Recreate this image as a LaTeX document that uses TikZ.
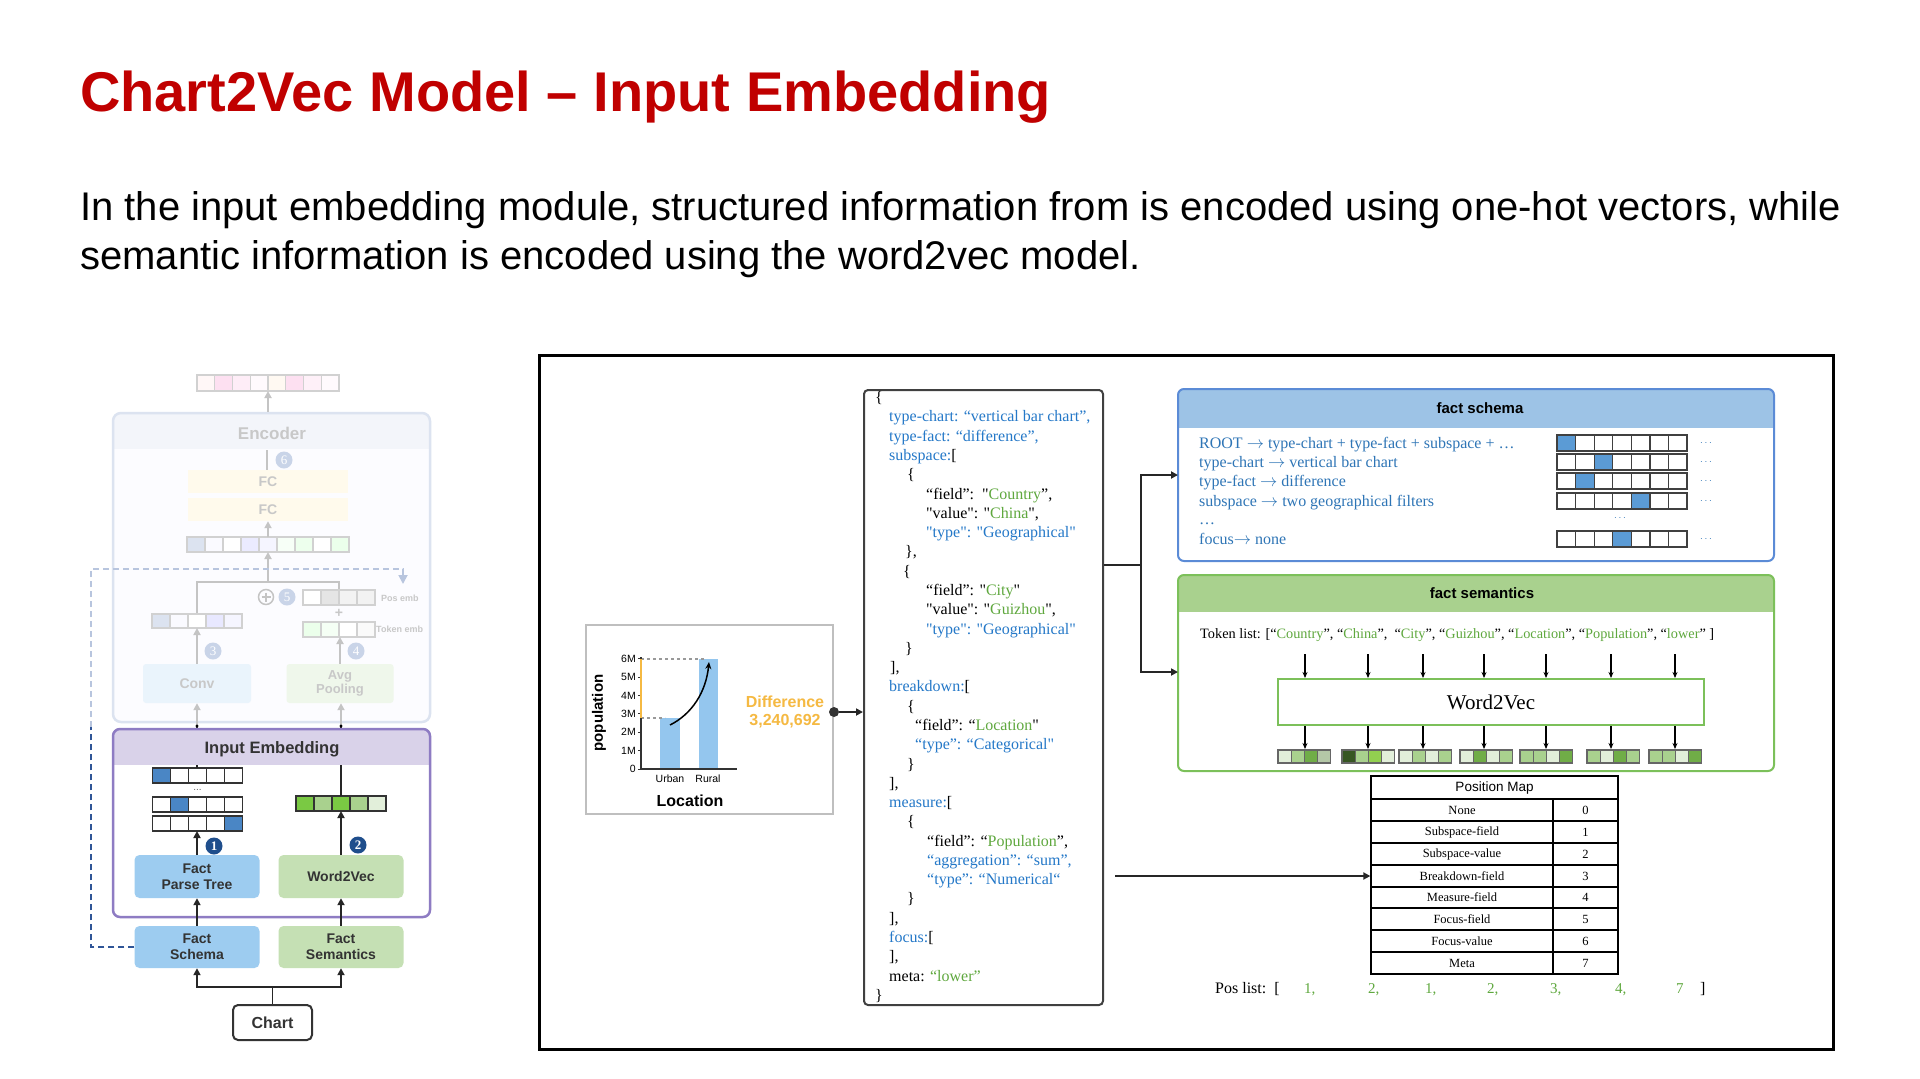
\documentclass[tikz,border=0pt]{standalone}
\usepackage{fontspec}
\setmainfont{Liberation Sans}
\newfontfamily\tms{Liberation Serif}
\usetikzlibrary{arrows.meta,calc}
\definecolor{titlered}{HTML}{C00000}
\definecolor{jblue}{HTML}{2478C8}
\definecolor{jgreen}{HTML}{5FA83E}
\definecolor{schB}{HTML}{5B8BD6}
\definecolor{schH}{HTML}{9DC3E6}
\definecolor{semB}{HTML}{7CC05A}
\definecolor{semH}{HTML}{A9D18E}
\definecolor{lbox}{HTML}{9DCCF0}
\definecolor{gbox}{HTML}{C5E0B4}
\definecolor{purB}{HTML}{8E7CC3}
\definecolor{purH}{HTML}{D9D2E9}
\definecolor{ohb}{HTML}{4A86C5}
\definecolor{numb}{HTML}{1F4E8C}
\definecolor{fadeT}{HTML}{C8C8C8}
\definecolor{fadeL}{HTML}{C4C4C4}
\definecolor{encB}{HTML}{DCE3F0}
\definecolor{encH}{HTML}{F3F5FA}
\definecolor{fcF}{HTML}{FFFAEC}
\definecolor{convF}{HTML}{EAF4FC}
\definecolor{avgF}{HTML}{EFF7EB}
\definecolor{fadeC}{HTML}{C9D4E8}
\definecolor{dashB}{HTML}{2F5597}
\definecolor{dashF}{HTML}{B8C5DE}
\definecolor{barB}{HTML}{94C6EE}
\definecolor{orng}{HTML}{F5B942}
\definecolor{sblue}{HTML}{2E75B6}
\definecolor{cellB}{HTML}{5B9BD5}
\definecolor{ga}{HTML}{E2EFDA}
\definecolor{gb}{HTML}{A9D18E}
\definecolor{gc}{HTML}{70AD47}
\definecolor{gd}{HTML}{B4C7A7}
\definecolor{ge}{HTML}{375623}
\definecolor{gf}{HTML}{92D050}
\definecolor{gg}{HTML}{7AC943}
\newcommand\cellrowx[6]{\foreach \cc [count=\ii from 0] in {#6}{\filldraw[fill=\cc,draw=#5,line width=1.3pt] ({#1+\ii*#3},#2) rectangle ++(#3,#4);}}
\newcommand\jb[1]{\textcolor{jblue}{#1}}
\newcommand\jg[1]{\textcolor{jgreen}{#1}}
\newcommand\jl[3]{\node[jt] (jl#1) at (#2,{402.7+19.28*#1}) {#3};}
\begin{document}
\begin{tikzpicture}[x=1pt,y=-1pt,
  arr/.style={-{Triangle[length=7pt,width=7pt]},line width=1.8pt,draw=black!85},
  garr/.style={-{Triangle[length=7pt,width=7pt]},line width=1.8pt,draw=fadeL},
  sarr/.style={-{Stealth[length=6pt,width=5pt]},line width=1.2pt,draw=black},
  jt/.style={anchor=base west,inner sep=0pt,font=\tms\fontsize{16}{16}\selectfont},
  lbl/.style={font=\bfseries\fontsize{14}{16}\selectfont,text=black!80,align=center},
  flbl/.style={font=\bfseries\fontsize{14}{16}\selectfont,text=fadeT,align=center},
  numc/.style={circle,fill=numb,text=white,inner sep=0pt,minimum size=17pt,font=\tms\bfseries\fontsize{13}{13}\selectfont},
  fnum/.style={circle,fill=fadeC,text=white,inner sep=0pt,minimum size=17pt,font=\tms\fontsize{13}{13}\selectfont},
  st/.style={anchor=base west,inner sep=0pt,text=sblue,font=\tms\fontsize{16}{16}\selectfont},
  pm/.style={inner sep=0pt,font=\tms\fontsize{12.5}{13}\selectfont},
  ck/.style={inner sep=0pt,font=\fontsize{10.5}{11}\selectfont},
]
\useasboundingbox (0,0) rectangle (1920,1079);
\fill[white] (0,0) rectangle (1920,1079);

% ---------- title & text
\node[anchor=base west,inner sep=0pt,text=titlered,font=\bfseries\fontsize{56}{60}\selectfont] (title) at (80,111) {Chart2Vec Model – Input Embedding};
\node[anchor=base west,inner sep=0pt,font=\fontsize{40}{42}\selectfont] (para1) at (80,220) {In the input embedding module, structured information from is encoded using one-hot vectors, while};
\node[anchor=base west,inner sep=0pt,font=\fontsize{40}{42}\selectfont] (para2) at (80,269) {semantic information is encoded using the word2vec model.};

% ---------- left diagram (faded encoder)
\cellrowx{197}{375}{17.75}{16}{black!18}{red!3,magenta!12,magenta!7,magenta!2,orange!5,magenta!12,magenta!6,magenta!2}
\coordinate (outv) at (268,391);
\fill[blue!1,rounded corners=8pt] (113,413) rectangle (430,722);
\begin{scope}\clip[rounded corners=8pt] (113,413) rectangle (430,722); \fill[encH] (113,413) rectangle (430,449);\end{scope}
\node[draw=encB,line width=2.5pt,rounded corners=8pt,minimum width=317pt,minimum height=309pt,inner sep=0pt] (encbox) at (271.5,567.5) {};
\node[font=\bfseries\fontsize{17}{17}\selectfont,text=fadeT] (enc) at (272,433) {Encoder};
\draw[garr] (encbox.north -| outv) -- (outv);
\node[fill=fcF,minimum width=160pt,minimum height=23pt,inner sep=0pt,flbl] (fc1) at (268,481.5) {FC};
\node[fill=fcF,minimum width=160pt,minimum height=23pt,inner sep=0pt,flbl] (fc2) at (268,509.5) {FC};
\coordinate (enc6) at (267,450);
\draw[line width=1.8pt,fadeL] (fc1.north -| enc6) -- (enc6);
\node[fnum] (c6) at (284,460) {6};
\cellrowx{187}{537}{18}{15}{black!18}{encB,blue!2,white,blue!8,blue!4,green!3,green!7,white,green!8}
\coordinate (midv) at (268,537);
\draw[garr] (midv) -- (fc2.south -| midv);
\coordinate (mj) at (268,582);
\draw[garr] (mj) -- (268,552);
\coordinate (lvt) at (197,614);
\coordinate (pet) at (339,590);
\draw[line width=1.8pt,fadeL] (lvt) |- (pet |- mj) -- (pet);
\node[circle,draw=fadeL,line width=1.5pt,minimum size=15pt,inner sep=0pt] (oplus) at (266,597) {};
\draw[line width=1.5pt,fadeL] ($(oplus.center)+(-4.5,0)$) -- ($(oplus.center)+(4.5,0)$) ($(oplus.center)+(0,-4.5)$) -- ($(oplus.center)+(0,4.5)$);
\node[fnum] (c5) at (287,597) {5};
\cellrowx{303}{590}{18}{15}{black!18}{white,black!10,black!5,black!5}
\node[anchor=west,inner sep=0pt,font=\bfseries\fontsize{9}{9}\selectfont,text=fadeT] (posl) at (381,598) {Pos emb};
\node[inner sep=0pt,font=\bfseries\fontsize{14}{14}\selectfont,text=fadeT] (plus) at (339,613) {+};
\cellrowx{303}{622}{18}{15}{black!18}{green!8,green!4,white,black!2}
\node[anchor=west,inner sep=0pt,font=\bfseries\fontsize{9}{9}\selectfont,text=fadeT] (tokl) at (376,629) {Token emb};
\cellrowx{152}{614}{18}{14}{black!18}{encB,blue!2,white,blue!9,blue!4}
\node[fill=convF,rounded corners=3pt,minimum width=108pt,minimum height=39pt,inner sep=0pt,flbl] (conv) at (197,683.5) {Conv};
\node[fill=avgF,rounded corners=3pt,minimum width=107pt,minimum height=39pt,inner sep=0pt,flbl,font=\bfseries\fontsize{13}{14}\selectfont] (avg) at (340,683.5) {Avg\\Pooling};
\draw[garr] (conv.north) -- (197,628);
\node[fnum] (c3) at (213,651) {3};
\draw[garr] (avg.north) -- (340,637);
\node[fnum] (c4) at (356,651) {4};
\coordinate (lup) at (197,726);
\coordinate (rup) at (341,726);
\draw[garr] (lup) -- (conv.south);
\draw[garr] (rup) -- (rup |- avg.south);
% dashed skip line (faded part)
\coordinate (dk) at (91,727);
\coordinate (dt) at (403,584);
\draw[dashF,line width=1.8pt,dash pattern=on 6pt off 4pt,-{Triangle[length=9pt,width=9pt]}] (dk) |- (dt |- 0,569) -- (dt);

% ---------- input embedding
\node[fill=white,rounded corners=7pt,minimum width=317pt,minimum height=188pt,inner sep=0pt] (iefill) at (271.5,823) {};
\cellrowx{152.5}{768}{18}{15}{black!80}{ohb,white,white,white,white}
\node[inner sep=0pt,font=\fontsize{10}{10}\selectfont,text=black!60] (ohd) at (197.5,790) {...};
\cellrowx{152.5}{797}{18}{15}{black!80}{white,ohb,white,white,white}
\cellrowx{152.5}{816}{18}{15}{black!80}{white,white,white,white,ohb}
\cellrowx{296}{796}{18}{15}{black!80}{gg,gb,gg,gb,ga}
\coordinate (oh1) at (197,768);
\coordinate (oh3) at (197,831);
\coordinate (gvt) at (341,796);
\coordinate (gvb) at (341,811);
\draw[line width=1.8pt,black!85] (oh1) -- (lup);
\draw[line width=1.8pt,black!85] (gvt) -- (rup);
\fill[black] (lup) circle (1.6pt) (rup) circle (1.6pt);
\begin{scope}\clip[rounded corners=7pt] (113,729) rectangle (430,917); \fill[purH] (113,729) rectangle (430,765);\end{scope}
\node[draw=purB,line width=2.5pt,rounded corners=7pt,minimum width=317pt,minimum height=188pt,inner sep=0pt] (ie) at (271.5,823) {};
\node[font=\bfseries\fontsize{16.5}{17}\selectfont,text=black!80] (iel) at (272,749) {Input Embedding};
\node[fill=lbox,rounded corners=5pt,minimum width=125pt,minimum height=43pt,inner sep=0pt,lbl] (fpt) at (197,876.5) {Fact\\Parse Tree};
\node[fill=gbox,rounded corners=5pt,minimum width=125pt,minimum height=43pt,inner sep=0pt,lbl] (w2v) at (341,876.5) {Word2Vec};
\node[fill=lbox,rounded corners=5pt,minimum width=125pt,minimum height=42pt,inner sep=0pt,lbl] (fs) at (197,947) {Fact\\Schema};
\node[fill=gbox,rounded corners=5pt,minimum width=125pt,minimum height=42pt,inner sep=0pt,lbl] (fsem) at (341,947) {Fact\\Semantics};
\node[draw=black!80,line width=2pt,fill=white,rounded corners=5pt,minimum width=79pt,minimum height=35pt,inner sep=0pt,font=\bfseries\fontsize{16}{16}\selectfont,text=black!80] (chart) at (272.5,1022.5) {Chart};
\draw[arr] (fpt.north) -- (oh3);
\draw[arr] (w2v.north) -- (gvb);
\node[numc] (n1) at (214,846) {1};
\node[numc] (n2) at (358,845) {2};
\draw[arr] (fs.north) -- (fpt.south);
\draw[arr] (fsem.north) -- (w2v.south);
\coordinate (cj) at (272.5,987);
\draw[line width=1.8pt,black!85] (chart.north) -- (cj);
\draw[arr] (cj) -| (fs.south);
\draw[arr] (cj) -| (fsem.south);
\draw[dashB,line width=1.8pt,dash pattern=on 6pt off 4pt] (fs.west) -| (dk);

% ---------- big frame
\draw[line width=3pt] (539,355) rectangle (1833,1049);

% ---------- chart card
\node[draw=black!25,line width=2pt,fill=white,minimum width=247pt,minimum height=189pt,inner sep=0pt] (card) at (709.5,719.5) {};
\fill[barB] (660,718) rectangle (680,769);
\fill[barB] (699,659) rectangle (718,769);
\draw[dashed,black!40,line width=1.2pt] (641,659) -- (706,659) (641,718) -- (665,718);
\draw[line width=1.5pt,black!80] (641,657) -- (641,769) -- (737,769);
\foreach \i/\t in {0/0,1/1M,2/2M,3/3M,4/4M,5/5M,6/6M}{
  \node[ck,anchor=east] (tk\i) at (636,{769-18.4*\i}) {\t};
  \draw[line width=1pt,black!80] (638,{769-18.4*\i}) -- (641,{769-18.4*\i});}
\draw[orng,line width=2.5pt] (641,659) -- (641,718);
\draw[-{Stealth[length=7pt,width=6pt]},line width=1.5pt] (670,725) .. controls (692,714) and (706,692) .. (709,662);
\node[rotate=90,inner sep=0pt,font=\bfseries\fontsize{15}{15}\selectfont] (ylab) at (599,713) {population};
\node[ck] (xu) at (670,779) {Urban};
\node[ck] (xr) at (708,779) {Rural};
\node[inner sep=0pt,font=\bfseries\fontsize{16}{16}\selectfont] (xlab) at (690,801) {Location};
\node[inner sep=0pt,text=orng,font=\bfseries\fontsize{16}{16}\selectfont] (diff) at (785,702) {Difference};
\node[inner sep=0pt,text=orng,font=\bfseries\fontsize{16}{16}\selectfont] (diffv) at (785,721) {3,240,692};
\node[circle,fill=black!80,minimum size=10pt,inner sep=0pt] (dot) at (834,712) {};

% ---------- json box
\node[draw=black!75,line width=2pt,rounded corners=4pt,fill=white,minimum width=239pt,minimum height=615pt,inner sep=0pt] (json) at (983.5,697.5) {};
\draw[arr,line width=1.8pt] (dot) -- (json.west |- dot);
\jl{0}{875}{\{}
\jl{1}{889}{\jb{type-chart: “vertical bar chart”,}}
\jl{2}{889}{\jb{type-fact: “difference”,}}
\jl{3}{889}{\jb{subspace:}[}
\jl{4}{907}{\{}
\jl{5}{926}{“field”:\ \ "\jg{Country}”,}
\jl{6}{926}{"value": "\jg{China}",}
\jl{7}{926}{\jb{"type": "Geographical"}}
\jl{8}{905}{\},}
\jl{9}{903}{\{}
\jl{10}{926}{“field”: "\jg{City}"}
\jl{11}{926}{"value": "\jg{Guizhou}",}
\jl{12}{926}{\jb{"type": "Geographical"}}
\jl{13}{905}{\}}
\jl{14}{890}{],}
\jl{15}{889}{\jb{breakdown:}[}
\jl{16}{907}{\{}
\jl{17}{915}{“field”: “\jg{Location}"}
\jl{18}{915}{\jb{“type”: “Categorical"}}
\jl{19}{907}{\}}
\jl{20}{889}{],}
\jl{21}{889}{\jb{measure:}[}
\jl{22}{907}{\{}
\jl{23}{927}{“field”: “\jg{Population}”,}
\jl{24}{927}{\jb{“aggregation”: “sum”,}}
\jl{25}{927}{\jb{“type”: “Numerical“}}
\jl{26}{907}{\}}
\jl{27}{889}{],}
\jl{28}{889}{\jb{focus:}[}
\jl{29}{889}{],}
\jl{30}{889}{meta: \jg{“lower”}}
\jl{31}{875}{\}}

% ---------- fact schema
\begin{scope}\clip[rounded corners=6pt] (1178,389) rectangle (1774,561); \fill[schH] (1178,389) rectangle (1774,428);\end{scope}
\node[draw=schB,line width=2pt,rounded corners=6pt,minimum width=596pt,minimum height=172pt,inner sep=0pt] (schema) at (1476,475) {};
\node[inner sep=0pt,font=\bfseries\fontsize{15}{15}\selectfont] (schl) at (1480,408) {fact schema};
\node[st] (s1) at (1199,448) {ROOT $\rightarrow$ type-chart + type-fact + subspace + …};
\node[st] (s2) at (1199,467) {type-chart $\rightarrow$ vertical bar chart};
\node[st] (s3) at (1199,486) {type-fact $\rightarrow$ difference};
\node[st] (s4) at (1199,506) {subspace $\rightarrow$ two geographical filters};
\node[st] (s5) at (1199,524) {…};
\node[st] (s6) at (1199,544) {focus$\rightarrow$ none};
\cellrowx{1557}{435}{18.57}{16}{black!75}{cellB,white,white,white,white,white,white}
\cellrowx{1557}{454}{18.57}{16}{black!75}{white,white,cellB,white,white,white,white}
\cellrowx{1557}{473}{18.57}{16}{black!75}{white,cellB,white,white,white,white,white}
\cellrowx{1557}{493}{18.57}{16}{black!75}{white,white,white,white,cellB,white,white}
\cellrowx{1557}{531}{18.57}{16}{black!75}{white,white,white,cellB,white,white,white}
\foreach \yy [count=\k] in {443,462,481,501,539}{\node[anchor=west,inner sep=0pt,text=sblue] (sd\k) at (1700,\yy) {$\cdots$};}
\node[inner sep=0pt,text=sblue] (sdm) at (1620,518) {$\cdots$};

% ---------- fact semantics
\begin{scope}\clip[rounded corners=6pt] (1178,575) rectangle (1774,771); \fill[semH] (1178,575) rectangle (1774,612);\end{scope}
\node[draw=semB,line width=2pt,rounded corners=6pt,minimum width=596pt,minimum height=196pt,inner sep=0pt] (sem) at (1476,673) {};
\node[inner sep=0pt,font=\bfseries\fontsize{15}{15}\selectfont] (seml) at (1482,593) {fact semantics};
\node[jt,font=\tms\fontsize{14.3}{15}\selectfont] (tok) at (1200,638) {Token list: [“\jg{Country}”, “\jg{China}”,\ \ “\jg{City}”, “\jg{Guizhou}”, “\jg{Location}”, “\jg{Population}”, “\jg{lower}” ]};
\node[draw=semB,line width=2pt,fill=white,minimum width=426pt,minimum height=46pt,inner sep=0pt,font=\tms\fontsize{21}{21}\selectfont] (w2vb) at (1491,702) {Word2Vec};
\foreach \x in {1305,1368,1423,1484,1546,1611,1675}{
  \draw[sarr] (\x,654) -- (\x,678);
  \draw[sarr] (\x,726) -- (\x,749);}
\cellrowx{1278}{750}{13.2}{13}{black!60}{ga,gb,gc,gd}
\cellrowx{1342}{750}{13.2}{13}{black!60}{ge,gb,gf,ga}
\cellrowx{1399}{750}{13.2}{13}{black!60}{ga,gb,ga,gb}
\cellrowx{1460}{750}{13.2}{13}{black!60}{ga,gc,ga,gb}
\cellrowx{1520}{750}{13.2}{13}{black!60}{gb,gb,ga,gc}
\cellrowx{1587}{750}{13.2}{13}{black!60}{gb,ga,gc,gb}
\cellrowx{1649}{750}{13.2}{13}{black!60}{gb,gb,ga,gc}

% ---------- connectors json -> facts
\coordinate (jj) at (1141,565);
\coordinate (schin) at (1178,475);
\coordinate (semin) at (1178,672);
\draw[line width=1.8pt,black!85] (json.east |- jj) -- (jj);
\draw[arr] (jj) |- (schin);
\draw[arr] (jj) |- (semin);

% ---------- position map
\node[draw=black,line width=1.3pt,minimum width=247pt,minimum height=198pt,inner sep=0pt] (pmap) at (1494.5,875) {};
\foreach \yy in {799,821,843,865,887,908,930,952}{\draw[line width=1.1pt] (1371,\yy) -- (1618,\yy);}
\draw[line width=1.1pt] (1553,799) -- (1553,974);
\node[inner sep=0pt,font=\fontsize{13.5}{14}\selectfont] (pmh) at (1494.5,788) {Position Map};
\foreach \t/\n/\yy [count=\k] in {None/0/810,Subspace-field/1/832,Subspace-value/2/854,Breakdown-field/3/876,Measure-field/4/897.5,Focus-field/5/919,Focus-value/6/941,Meta/7/963}{
  \node[pm] (pl\k) at (1462,\yy) {\t};
  \node[pm] (pn\k) at (1585.5,\yy) {\n};}
\coordinate (pstart) at (1115,876);
\draw[arr,line width=2pt] (pstart) -- (pmap.west |- pstart);
\node[jt] (posl2) at (1215,993) {Pos list:\ \ [};
\foreach \x/\t [count=\k] in {1304/1,1368/2,1425/1,1487/2,1550/3,1615/4}{\node[jt,text=jgreen,font=\tms\fontsize{15}{15}\selectfont] (pv\k) at (\x,993) {\t,};}
\node[jt,text=jgreen,font=\tms\fontsize{15}{15}\selectfont] (pv7) at (1676,993) {7};
\node[jt] (posr) at (1700,993) {]};
\end{tikzpicture}
\end{document}
